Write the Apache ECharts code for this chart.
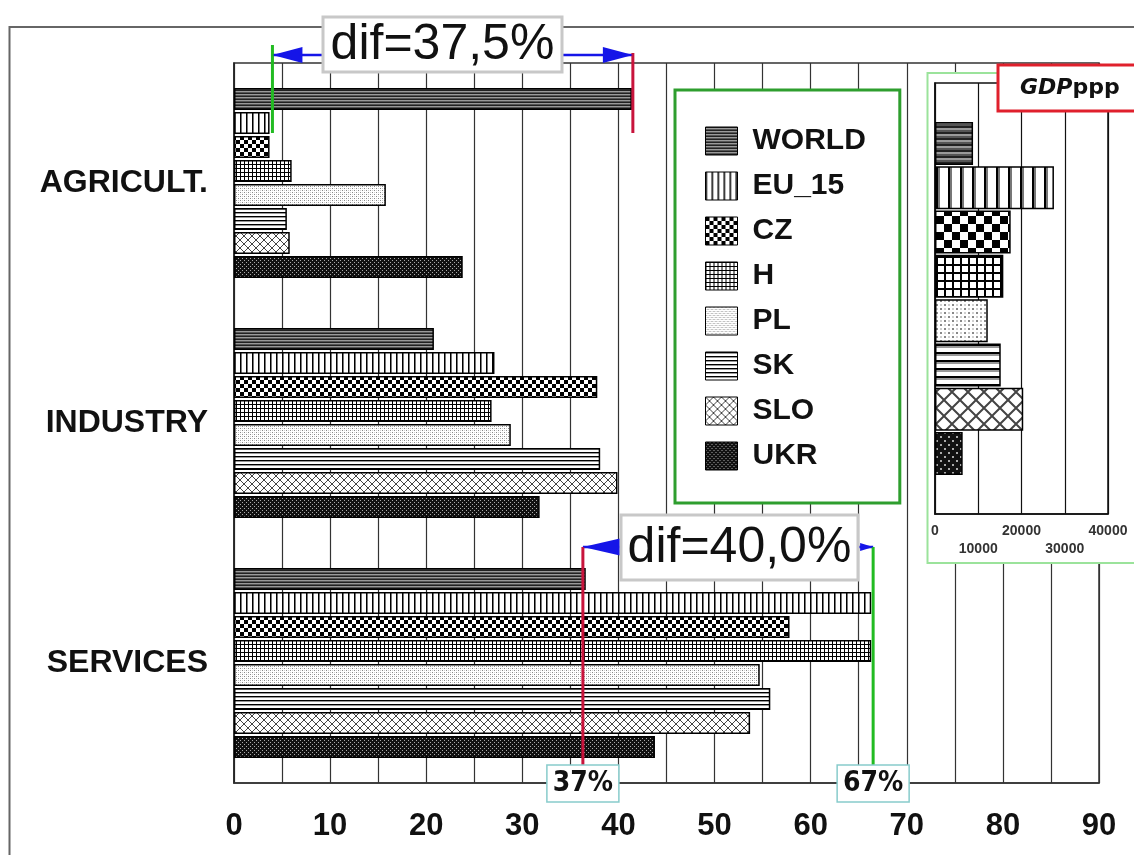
<!DOCTYPE html>
<html>
<head>
<meta charset="utf-8">
<script src="https://cdn.jsdelivr.net/npm/echarts@6/dist/echarts.min.js"></script>
<style>
html, body { margin: 0; padding: 0; background: #fff; }
#chart { width: 1134px; height: 855px; }
</style>
</head>
<body>
<div id="chart"></div>
<script>
// employment structure by sector (%), plus GDP ppp inset
const sectors = ['AGRICULT.', 'INDUSTRY', 'SERVICES'];
const countries = ['WORLD', 'EU_15', 'CZ', 'H', 'PL', 'SK', 'SLO', 'UKR'];
const agriculture = [41.4, 3.7, 3.7, 6.0, 15.8, 5.5, 5.8, 23.8];
const industry = [20.8, 27.1, 37.8, 26.8, 28.8, 38.1, 39.9, 31.8];
const services = [36.6, 66.3, 57.8, 66.3, 54.7, 55.8, 53.7, 43.8];
const gdpPpp = [8800, 27500, 17500, 15800, 12200, 15200, 20400, 6400];

// annotation markers (axis units) and their texts
const agriMarks = [4.0, 41.5];
const servMarks = [36.3, 66.5];
const servMarkLabels = ['37%', '67%'];
const difLabels = ['dif=37,5%', 'dif=40,0%'];

const FONT = "'Liberation Sans', Arial, sans-serif";
const NARROW = "'Liberation Sans Narrow', 'DejaVu Sans Condensed', 'Liberation Sans', sans-serif";

// hatch fills, drawn on small canvases
function tile(w, h, s, draw) {
  const c = document.createElement('canvas');
  c.width = w * s;
  c.height = h * s;
  const g = c.getContext('2d');
  g.scale(s, s);
  g.fillStyle = '#fff';
  g.fillRect(0, 0, w, h);
  draw(g);
  return { image: c, repeat: 'repeat' };
}

const hatches = {
  WORLD: [4, 3, g => {
    g.fillStyle = '#222'; g.fillRect(0, 0, 4, 1);
    g.fillStyle = '#9a9a9a'; g.fillRect(0, 1, 4, 1);
    g.fillStyle = '#555'; g.fillRect(0, 2, 4, 1);
  }],
  EU_15: [6, 1, g => {
    g.fillStyle = '#000'; g.fillRect(0, 0, 1, 1);
    g.fillStyle = '#777'; g.fillRect(1, 0, 1, 1);
  }],
  CZ: [8, 8, g => {
    g.fillStyle = '#000';
    g.fillRect(0, 0, 4, 4);
    g.fillRect(4, 4, 4, 4);
  }],
  H: [4, 4, g => {
    g.fillStyle = '#000';
    g.fillRect(0, 0, 4, 1);
    g.fillRect(0, 0, 1, 4);
  }],
  PL: [4, 4, g => {
    g.fillStyle = '#888';
    g.fillRect(0, 0, 1, 1);
    g.fillRect(2, 2, 1, 1);
    g.fillStyle = '#d0d0d0';
    g.fillRect(2, 0, 1, 1);
    g.fillRect(0, 2, 1, 1);
  }],
  SK: [1, 4, g => {
    g.fillStyle = '#000'; g.fillRect(0, 0, 1, 1);
    g.fillStyle = '#999'; g.fillRect(0, 1, 1, 1);
  }],
  SLO: [8, 8, g => {
    g.strokeStyle = '#444';
    g.lineWidth = 1;
    g.beginPath();
    g.moveTo(-1, -1); g.lineTo(9, 9);
    g.moveTo(9, -1); g.lineTo(-1, 9);
    g.stroke();
  }],
  UKR: [4, 4, g => {
    g.fillStyle = '#111'; g.fillRect(0, 0, 4, 4);
    g.fillStyle = '#aaa';
    g.fillRect(0, 0, 1, 1);
    g.fillRect(2, 2, 1, 1);
  }]
};

function hatch(name, s) {
  const h = hatches[name];
  return tile(h[0], h[1], s, h[2]);
}

const mainSeries = countries.map((name, i) => ({
  name,
  type: 'bar',
  xAxisIndex: 0,
  yAxisIndex: 0,
  barWidth: 22,
  barGap: '9%',
  data: [agriculture[i], industry[i], services[i]],
  itemStyle: { color: hatch(name, 1), borderColor: '#000', borderWidth: 1.5 }
}));

const gdpSeries = countries.map((name, i) => ({
  name,
  type: 'bar',
  xAxisIndex: 1,
  yAxisIndex: 1,
  barWidth: 43,
  barGap: '3%',
  z: 11,
  data: [gdpPpp[i]],
  itemStyle: { color: hatch(name, 2), borderColor: '#000', borderWidth: 1.5 }
}));

const chart = echarts.init(document.getElementById('chart'));

chart.setOption({
  backgroundColor: '#fff',
  animation: false,
  legend: {
    data: countries,
    orient: 'vertical',
    left: 675,
    top: 90,
    icon: 'rect',
    itemWidth: 32,
    itemHeight: 28,
    itemGap: 15,
    selectedMode: false,
    padding: [36, 34, 32, 30],
    backgroundColor: '#fff',
    borderColor: '#2e9e2e',
    borderWidth: 3,
    itemStyle: { borderColor: '#000', borderWidth: 1 },
    textStyle: {
      fontFamily: FONT, fontSize: 30, fontWeight: 'bold', color: '#111',
      lineHeight: 28, padding: [0, 0, 0, 10]
    }
  },
  grid: [
    { left: 234, right: 35, top: 63, bottom: 72, show: true,
      borderColor: '#333', borderWidth: 1.5, backgroundColor: '#fff' },
    { left: 935, right: 26, top: 83, bottom: 341, show: true, z: 10,
      borderColor: '#111', borderWidth: 1.5, backgroundColor: '#fff' }
  ],
  xAxis: [
    {
      type: 'value', gridIndex: 0, min: 0, max: 90, interval: 5,
      axisLine: { show: true, lineStyle: { color: '#333', width: 1.5 } },
      axisTick: { show: false },
      splitLine: { lineStyle: { color: '#333', width: 1.2 } },
      axisLabel: {
        formatter: v => (v % 10 === 0 ? String(v) : ''),
        fontFamily: FONT, fontSize: 31, fontWeight: 'bold', color: '#111', margin: 28
      }
    },
    {
      type: 'value', gridIndex: 1, min: 0, max: 40000, interval: 10000, z: 10,
      axisLine: { show: true, lineStyle: { color: '#111', width: 1.5 } },
      axisTick: { show: false },
      splitLine: { lineStyle: { color: '#111', width: 1.2 } },
      axisLabel: {
        formatter: v => ((v / 10000) % 2 === 1 ? '\n' + v : String(v)),
        fontFamily: FONT, fontSize: 14, fontWeight: 'bold', color: '#333',
        lineHeight: 18, margin: 8
      }
    }
  ],
  yAxis: [
    {
      type: 'category', gridIndex: 0, data: sectors, inverse: true,
      axisLine: { lineStyle: { color: '#222', width: 1.5 } },
      axisTick: { show: false },
      axisLabel: { fontFamily: FONT, fontSize: 32, fontWeight: 'bold', color: '#111', margin: 26 }
    },
    {
      type: 'category', gridIndex: 1, data: ['GDPppp'], inverse: true, z: 10,
      axisLine: { lineStyle: { color: '#111', width: 1.5 } },
      axisTick: { show: false },
      axisLabel: { show: false }
    }
  ],
  series: mainSeries.concat(gdpSeries)
});

// annotations, placed from axis values
const xp = v => chart.convertToPixel({ xAxisIndex: 0 }, v);
const blue = '#1515e8';
const red = '#c8143c';
const green = '#22bb22';

function vline(x, y1, y2, color) {
  return { type: 'line', z: 20, shape: { x1: x, y1, x2: x, y2 },
    style: { stroke: color, lineWidth: 3 } };
}
function hline(x1, x2, y) {
  return { type: 'line', z: 20, shape: { x1, y1: y, x2, y2: y },
    style: { stroke: blue, lineWidth: 2.5 } };
}
function head(tip, y, len, half, dir) {
  return { type: 'polygon', z: 21,
    shape: { points: [[tip, y], [tip + dir * len, y - half], [tip + dir * len, y + half]] },
    style: { fill: blue } };
}
function box(x, y, w, h, stroke, lw) {
  return { type: 'rect', z: 22, shape: { x, y, width: w, height: h },
    style: { fill: '#fff', stroke, lineWidth: lw } };
}
function label(x, y, text, font) {
  return { type: 'text', z: 23, x, y,
    style: { text, font, fill: '#111', align: 'center', verticalAlign: 'middle',
      textAlign: 'center', textVerticalAlign: 'middle' } };
}

const aLo = xp(agriMarks[0]);
const aHi = xp(agriMarks[1]);
const sLo = xp(servMarks[0]);
const sHi = xp(servMarks[1]);

const graphics = [
  // outer frame
  { type: 'rect', z: 1, silent: true, shape: { x: 9.5, y: 27, width: 1200, height: 900 },
    style: { fill: 'none', stroke: '#666', lineWidth: 2 } },
  // inset frame
  { type: 'rect', z: 5, shape: { x: 927.5, y: 73, width: 220, height: 490 },
    style: { fill: '#fff', stroke: '#9be39b', lineWidth: 2 } },
  box(998, 65, 150, 46, '#e0202c', 3),
  { type: 'text', z: 23, x: 1020, y: 88,
    style: {
      text: '{a|GDP}{b|ppp}', verticalAlign: 'middle', textVerticalAlign: 'middle',
      rich: {
        a: { fontFamily: "'DejaVu Sans', sans-serif", fontSize: 22, fontWeight: 'bold', fontStyle: 'italic', fill: '#111' },
        b: { fontFamily: "'DejaVu Sans', sans-serif", fontSize: 22, fontWeight: 'bold', fill: '#111' }
      }
    } },

  // agriculture difference
  hline(aLo, aHi, 55),
  head(aLo, 55, 30, 8, 1),
  head(aHi, 55, 30, 8, -1),
  vline(aLo, 45, 133, green),
  vline(aHi, 53, 133, red),
  box(323, 17, 239, 55, '#c8c8c8', 3),
  label(442.5, 45, difLabels[0], '50px ' + FONT),

  // services difference
  hline(sLo, sHi, 547),
  head(sLo, 547, 37, 8.5, 1),
  head(sHi, 547, 13, 4, -1),
  vline(sLo, 547, 766, red),
  vline(sHi, 547, 766, green),
  box(621, 515, 237, 65, '#c8c8c8', 3),
  label(739.5, 548, difLabels[1], '50px ' + FONT),
  box(sLo - 36, 765, 72, 37, '#88cccc', 1.5),
  label(sLo, 784, servMarkLabels[0], 'bold 28px ' + NARROW),
  box(sHi - 36, 765, 72, 37, '#88cccc', 1.5),
  label(sHi, 784, servMarkLabels[1], 'bold 28px ' + NARROW)
];

chart.setOption({ graphic: graphics });
</script>
</body>
</html>
